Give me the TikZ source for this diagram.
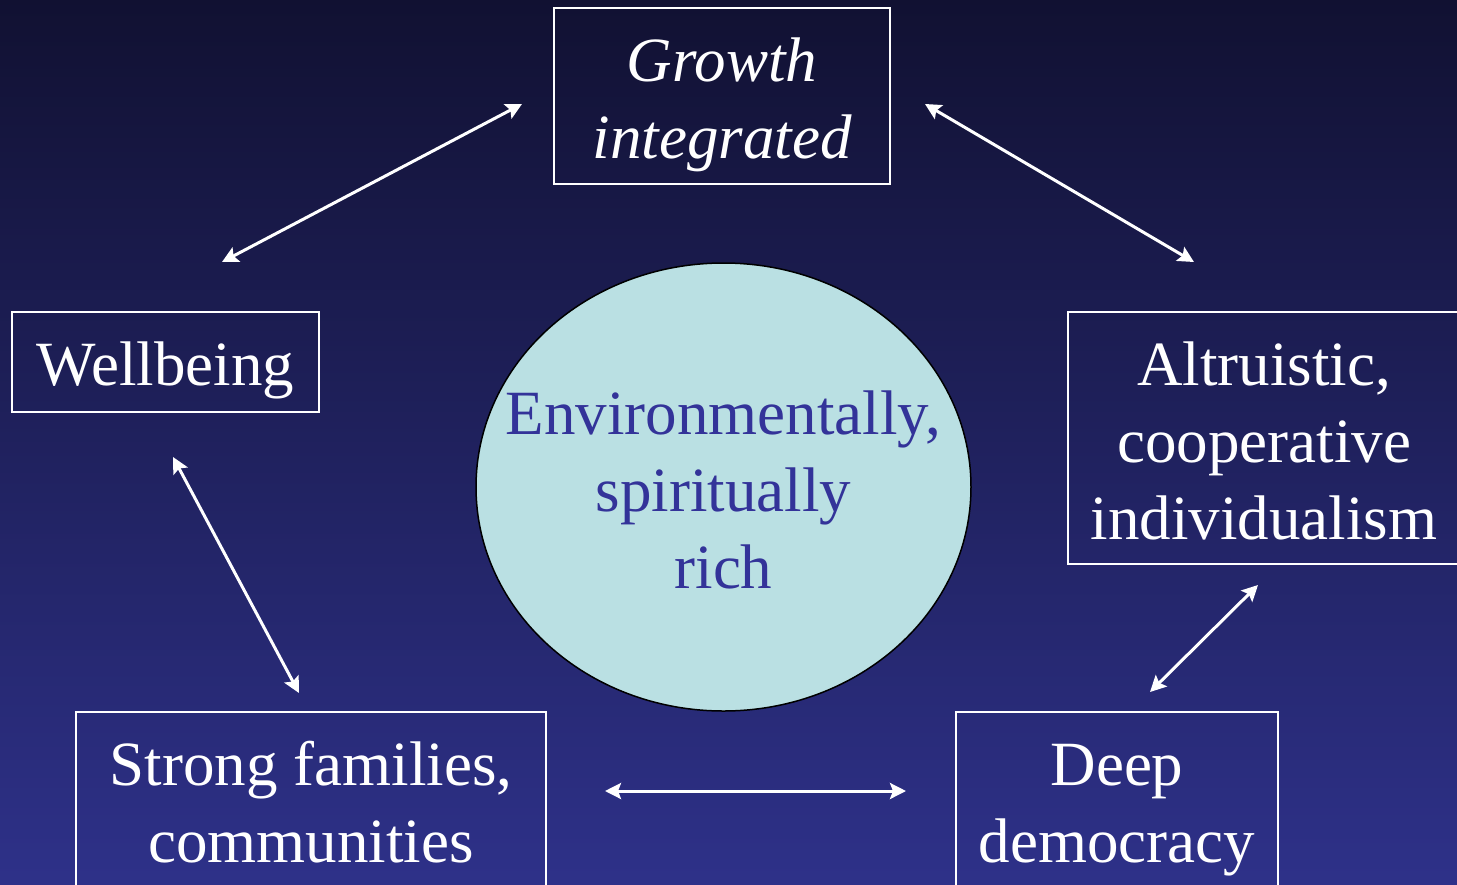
\documentclass[tikz,border=0pt]{standalone}
\usepackage{fontspec}
\setmainfont{Liberation Serif}
\usetikzlibrary{arrows.meta,shapes.geometric}

\definecolor{bgtop}{RGB}{17,17,50}
\definecolor{bgbot}{RGB}{46,49,137}
\definecolor{envfill}{RGB}{186,224,227}
\definecolor{envtext}{RGB}{51,51,153}

\newcommand\hi{\rule{0pt}{60pt}}

\tikzset{
	boxtext/.style={
		align=center, inner xsep=0pt, inner ysep=13pt,
		font=\fontsize{63}{77}\selectfont,
		execute at end node={\rule[-12pt]{0pt}{12pt}},
	},
	topic/.style={boxtext, draw=white, line width=2pt, text=white, anchor=north},
	twoway/.style={draw=white, line width=3pt,
		{Stealth[length=16pt,width=16pt,inset=3pt]}-{Stealth[length=16pt,width=16pt,inset=3pt]}},
}

\begin{document}
\begin{tikzpicture}[x=1pt, y=-1pt]
	\useasboundingbox (0,0) rectangle (1457,884);
	\clip (0,0) rectangle (1457,884);
	\shade[top color=bgtop, bottom color=bgbot] (0,0) rectangle (1457,884);

	% boxes
	\node (grw) [topic, minimum width=336pt, font=\fontsize{63}{77}\selectfont\itshape] at (722,7) {\hi Growth\\integrated};
	\node (wlb) [topic, minimum width=307pt] at (165.5,311) {\hi Wellbeing};
	\node (alt) [topic, minimum width=392pt] at (1264,311) {\hi Altruistic,\\cooperative\\individualism};
	\node (fam) [topic, minimum width=470pt] at (311,711) {\hi Strong families,\\communities\\\mbox{}};
	\node (dem) [topic, minimum width=322pt] at (1117,711) {\hi Deep\\democracy\\\mbox{}};

	% centre
	\node (env) [ellipse, draw=black, line width=1.5pt, fill=envfill,
		minimum width=495pt, minimum height=448pt] at (723.5,487) {};
	\node (envtxt) [boxtext, text=envtext] at (env.center) {\hi Environmentally,\\spiritually\\rich};

	% arrow ends
	\coordinate (grw-w) at (522,104);
	\coordinate (grw-e) at (925,104);
	\coordinate (wlb-n) at (222,262);
	\coordinate (wlb-s) at (173,457);
	\coordinate (alt-n) at (1194,262);
	\coordinate (alt-s) at (1258,585);
	\coordinate (fam-n) at (299,693);
	\coordinate (fam-e) at (605,791);
	\coordinate (dem-w) at (906,791);
	\coordinate (dem-n) at (1150,692);

	\draw[twoway] (wlb-n) -- (grw-w);
	\draw[twoway] (grw-e) -- (alt-n);
	\draw[twoway] (wlb-s) -- (fam-n);
	\draw[twoway] (fam-e) -- (dem-w);
	\draw[twoway] (dem-n) -- (alt-s);
\end{tikzpicture}
\end{document}
